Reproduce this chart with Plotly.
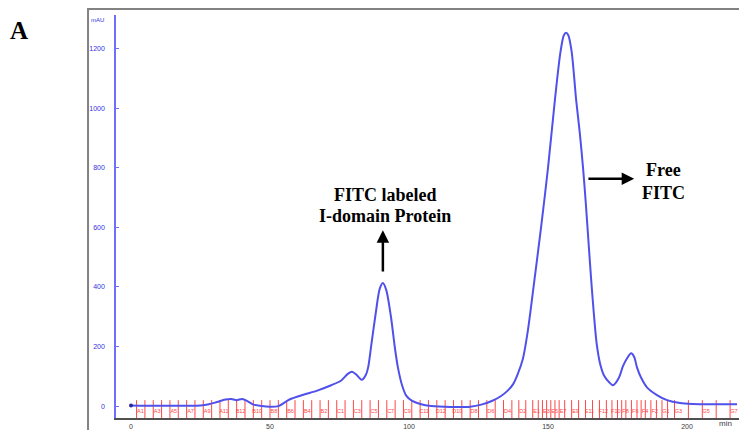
import plotly.graph_objects as go

# Chromatogram trace: retention time (min) and absorbance (mAU)
time_min = [0, 5, 10, 15, 20, 25, 28, 31, 34, 36,
            38, 40, 42, 44, 47, 50, 53, 57, 62, 67,
            72, 75.5, 78, 79.5, 81, 83, 84.5, 85.3, 86.5, 88,
            89.5, 90.6, 91.8, 93.5, 95, 96, 97.5, 99, 101, 104,
            108, 115, 122, 126, 130, 133, 135.5, 137.4, 139, 141, 142.7,
            144.8, 147.5, 150, 152.5, 154.5, 155.7, 156.5, 157.3, 158.5, 160.1,
            161.4, 162.6, 163.6, 164.5, 165.4, 166.4, 167.5, 168.8, 170.3, 172,
            173.4, 175.5, 177, 178.4,
            179.9, 181, 182, 183.5, 185.6, 189.2, 192.8, 197.5, 202, 210,
            218]
absorbance_mau = [2, 1, 1, 1, 1, 2, 6, 14, 22, 24,
                  20, 24, 16, 5, 0, -2, 0, 22, 38, 52,
                  70, 85, 108, 115, 106, 88, 105, 130, 210, 310,
                  395, 413, 390, 300, 190, 130, 70, 35, 18, 7,
                  0, -3, -2, 5, 18, 33, 52, 73, 105, 160, 250,
                  400, 600, 800, 1030, 1190, 1245, 1253, 1245, 1190, 1030,
                  920, 800, 680, 560, 440, 320, 210, 140, 100, 80,
                  70, 95, 135, 160,
                  177, 165, 130, 95, 63, 37, 20, 10, 7, 6,
                  6]

# Fraction collector marks (start time of each fraction, min)
fraction_start = [2, 5, 8, 11, 14, 17, 20, 23, 26, 29,
                  32, 35, 38, 41, 44, 47, 50, 53, 56, 59,
                  62, 65, 68, 71, 74, 77, 80, 83, 86, 89,
                  92, 95, 98, 101, 104, 107, 110, 113, 116, 119,
                  122, 125, 128, 131, 134, 137, 139.5, 142, 144.5, 146.5,
                  148, 149.5, 151, 152.5, 154, 156, 158.5, 161, 163.5, 166,
                  168.5, 171, 173, 175, 176.5, 178, 180, 182, 183.5, 185,
                  187, 189, 191, 193, 195.5, 200.5, 205.5, 210.5, 215.5]
# Well labels printed on every other fraction
fraction_labels = ["A1", "A3", "A5", "A7", "A9", "A11", "B12", "B10", "B8", "B6",
                   "B4", "B2", "C1", "C3", "C5", "C7", "C9", "C11", "D12", "D10",
                   "D8", "D6", "D4", "D2", "E1", "E3", "E5", "E7", "E9", "E11",
                   "F12", "F10", "F8", "F6", "F4", "F2", "G1", "G3", "G5", "G7"]

x_ticks = [0, 50, 100, 150, 200]
y_ticks = [0, 200, 400, 600, 800, 1000, 1200]

X_RANGE = [-5.4, 218.7]
Y_RANGE = [-40, 1313]

RED = "rgb(255,70,70)"
BLUE = "rgb(80,80,235)"

fig = go.Figure()

# fraction tick lines
tick_x, tick_y = [], []
for f in fraction_start:
    tick_x += [f, f, None]
    tick_y += [20, Y_RANGE[0], None]
fig.add_trace(go.Scatter(x=tick_x, y=tick_y, mode="lines",
                         line=dict(color=RED, width=1),
                         hoverinfo="skip", showlegend=False))

# fraction well labels
label_x = [fraction_start[i] + 1.4 for i in range(0, len(fraction_start), 2)]
fig.add_trace(go.Scatter(x=label_x, y=[-20] * len(label_x), mode="text",
                         text=fraction_labels,
                         textfont=dict(family="Liberation Sans", size=5.5, color=RED),
                         hoverinfo="skip", showlegend=False))

# absorbance trace
fig.add_trace(go.Scatter(x=time_min, y=absorbance_mau, mode="lines",
                         line=dict(color=BLUE, width=2, shape="spline", smoothing=0.8),
                         showlegend=False))
fig.add_trace(go.Scatter(x=[time_min[0]], y=[absorbance_mau[0]], mode="markers",
                         marker=dict(color="rgb(40,40,160)", size=4),
                         showlegend=False))

fig.update_xaxes(range=X_RANGE, tickvals=x_ticks, ticktext=[str(v) for v in x_ticks],
                 showgrid=False, zeroline=False, showline=True,
                 linecolor="rgb(80,80,80)", linewidth=1.5,
                 ticks="", ticklabelstandoff=1,
                 tickfont=dict(family="Liberation Sans", size=7, color="rgb(60,60,60)"))
fig.update_yaxes(range=Y_RANGE, tickvals=y_ticks, ticktext=[str(v) for v in y_ticks],
                 showgrid=False, zeroline=False, showline=True,
                 linecolor="rgb(110,110,255)", linewidth=1.5,
                 ticks="inside", ticklen=3, tickcolor="rgb(110,110,255)",
                 ticklabelstandoff=8,
                 tickfont=dict(family="Liberation Sans", size=7, color="rgb(50,50,220)"))

serif = dict(family="Liberation Serif", size=18, color="black")
fig.update_layout(
    width=739, height=430,
    margin=dict(l=116, r=0, t=15, b=9),
    paper_bgcolor="white", plot_bgcolor="white",
    shapes=[dict(type="rect", xref="paper", yref="paper",
                 x0=-0.0449, x1=1.05, y0=-0.1, y1=1.0148,
                 line=dict(color="rgb(130,130,130)", width=2), layer="below")],
)

# panel letter
fig.add_annotation(text="<b>A</b>", xref="paper", yref="paper",
                   x=(18.5 - 116) / 623, y=(421 - 31) / 406,
                   showarrow=False, xanchor="center", yanchor="middle",
                   font=dict(family="Liberation Serif", size=25, color="black"))
# y-axis unit
fig.add_annotation(text="mAU", xref="paper", yref="paper",
                   x=(97 - 116) / 623, y=(421 - 20) / 406,
                   showarrow=False, xanchor="center", yanchor="middle",
                   font=dict(family="Liberation Sans", size=6, color="rgb(50,50,220)"))
# x-axis unit
fig.add_annotation(text="min", xref="paper", yref="paper",
                   x=(725 - 116) / 623, y=(421 - 427) / 406,
                   showarrow=False, xanchor="center", yanchor="middle",
                   font=dict(family="Liberation Sans", size=8, color="rgb(60,60,60)"))

# peak labels
fig.add_annotation(text="<b>FITC labeled</b>", x=91.4, y=710, showarrow=False,
                   xanchor="center", yanchor="middle", font=serif)
fig.add_annotation(text="<b>I-domain Protein</b>", x=91.4, y=638, showarrow=False,
                   xanchor="center", yanchor="middle", font=serif)
fig.add_annotation(text="<b>Free</b>", x=191.7, y=793, showarrow=False,
                   xanchor="center", yanchor="middle", font=serif)
fig.add_annotation(text="<b>FITC</b>", x=191.7, y=717, showarrow=False,
                   xanchor="center", yanchor="middle", font=serif)

# arrows
fig.add_annotation(x=90.6, y=590, ax=90.6, ay=447, xref="x", yref="y",
                   axref="x", ayref="y", text="", showarrow=True,
                   arrowhead=2, arrowsize=1, arrowwidth=2.5, arrowcolor="black")
fig.add_annotation(x=181, y=763, ax=164, ay=763, xref="x", yref="y",
                   axref="x", ayref="y", text="", showarrow=True,
                   arrowhead=2, arrowsize=1, arrowwidth=2.5, arrowcolor="black")

fig.write_html("out.html")
